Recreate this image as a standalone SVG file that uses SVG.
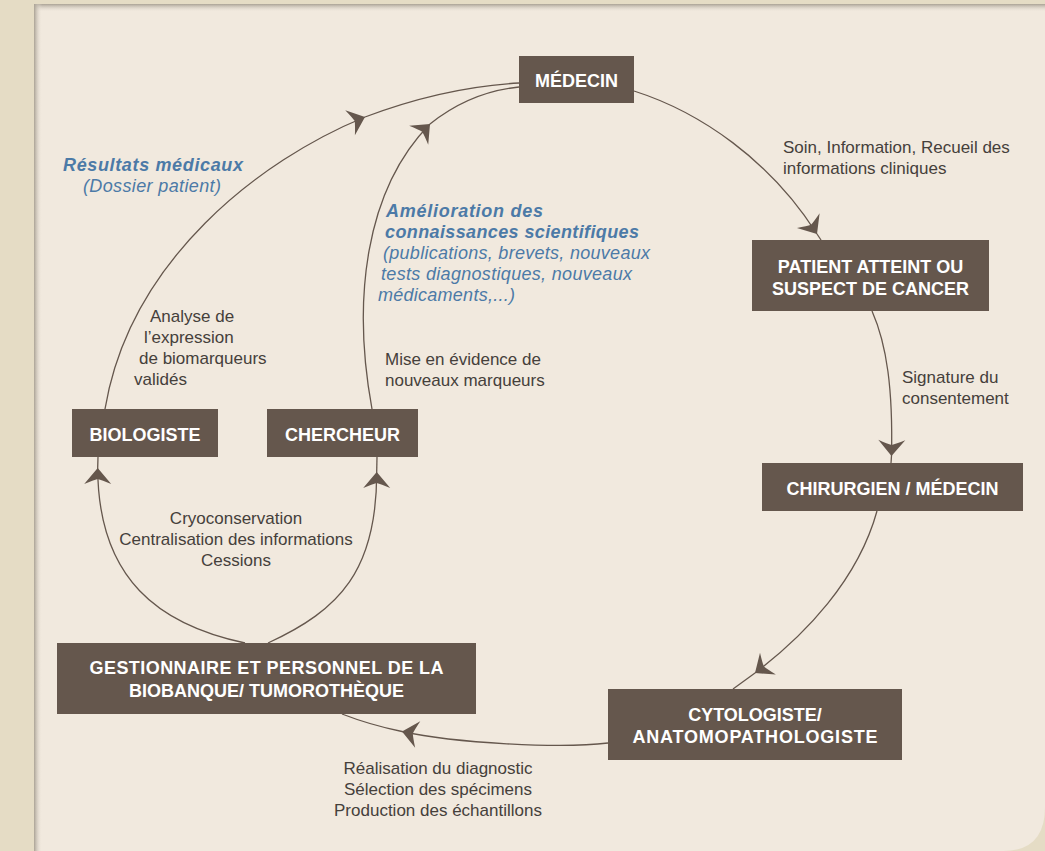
<svg xmlns="http://www.w3.org/2000/svg" width="1045" height="851" viewBox="0 0 1045 851">
<defs>
<linearGradient id="shTop" x1="0" y1="0" x2="0" y2="1">
<stop offset="0" stop-color="#aaa295"/>
<stop offset="1" stop-color="#F1E9DE" stop-opacity="0"/>
</linearGradient>
<linearGradient id="shLeft" x1="0" y1="0" x2="1" y2="0">
<stop offset="0" stop-color="#aaa295"/>
<stop offset="1" stop-color="#F1E9DE" stop-opacity="0"/>
</linearGradient>
<path id="ah" d="M0,0 L-16,-13.5 Q-12,-4 -11,0 Q-12,4 -16,13.5 Z"/>
<style>
.box{fill:#65574D}
.nt{font-family:"Liberation Sans",Arial,sans-serif;font-weight:bold;font-size:18px;fill:#FFFFFF;text-anchor:middle}
.lb{font-family:"Liberation Sans",Arial,sans-serif;font-size:17px;fill:#45403B}
.bl{font-family:"Liberation Sans",Arial,sans-serif;font-size:18px;fill:#4C7AA7;font-style:italic}
.blb{font-weight:bold}
.cn{fill:none;stroke:#65574D;stroke-width:1.3}
.ar{fill:#65574D}
</style>
</defs>
<rect x="0" y="0" width="1045" height="851" fill="#E5DCC5"/>
<path d="M34,4 H1045 V807 Q1045,851 1003,851 H34 Z" fill="#F1E9DE"/>
<rect x="34" y="4" width="1011" height="8" fill="url(#shTop)"/>
<rect x="34" y="4" width="8" height="847" fill="url(#shLeft)"/>

<g id="connectors">
<path class="cn" d="M634,91 C700,112 770,160 817,234"/>
<path class="cn" d="M817,234 L821,240"/>
<use href="#ah" class="ar" transform="translate(817,234) rotate(57)"/>

<path class="cn" d="M872,311 C887,345 893,390 891.5,456"/>
<path class="cn" d="M891.5,456 L891,463"/>
<use href="#ah" class="ar" transform="translate(891.5,456) rotate(91)"/>

<path class="cn" d="M877,511 C858,580 805,635 755,673"/>
<path class="cn" d="M755,673 L733,689"/>
<use href="#ah" class="ar" transform="translate(755,673) rotate(144)"/>

<path class="cn" d="M608,743 C560,749 455,743 402,731.5"/>
<path class="cn" d="M402,731.5 C380,727 360,721 342,714"/>
<use href="#ah" class="ar" transform="translate(402,731.5) rotate(191)"/>

<path class="cn" d="M245,643 C160,625 98,580 97.7,468"/>
<path class="cn" d="M97.7,468 L98,457"/>
<use href="#ah" class="ar" transform="translate(97.7,468) rotate(-90)"/>

<path class="cn" d="M268,643 C340,610 377,570 376.7,472"/>
<path class="cn" d="M376.7,472 L377,457"/>
<use href="#ah" class="ar" transform="translate(376.7,472) rotate(-90)"/>

<path class="cn" d="M105,409 C130,260 260,160 365,117"/>
<path class="cn" d="M365,117 C410,100 465,86 519,83"/>
<use href="#ah" class="ar" transform="translate(365,117) rotate(-21)"/>

<path class="cn" d="M372,409 C352,300 365,190 430,124"/>
<path class="cn" d="M430,124 C460,100 490,90 519,87"/>
<use href="#ah" class="ar" transform="translate(430,124) rotate(-45)"/>
</g>

<g id="medecin">
<rect class="box" x="519" y="56" width="115" height="47"/>
<text class="nt" x="576.5" y="87">MÉDECIN</text>
</g>
<g id="patient">
<rect class="box" x="752" y="240" width="237" height="71"/>
<text class="nt" x="870.5" y="273">PATIENT ATTEINT OU</text>
<text class="nt" x="870.5" y="295">SUSPECT DE CANCER</text>
</g>
<g id="chirurgien">
<rect class="box" x="762" y="463" width="261" height="48"/>
<text class="nt" x="892.5" y="495">CHIRURGIEN / MÉDECIN</text>
</g>
<g id="cytologiste">
<rect class="box" x="608" y="689" width="294" height="71"/>
<text class="nt" x="755" y="721">CYTOLOGISTE/</text>
<text class="nt" x="755" y="743" textLength="245" lengthAdjust="spacing">ANATOMOPATHOLOGISTE</text>
</g>
<g id="gestionnaire">
<rect class="box" x="57" y="643" width="419" height="71"/>
<text class="nt" x="266.5" y="674" textLength="354" lengthAdjust="spacing">GESTIONNAIRE ET PERSONNEL DE LA</text>
<text class="nt" x="266.5" y="697">BIOBANQUE/ TUMOROTHÈQUE</text>
</g>
<g id="biologiste">
<rect class="box" x="72" y="409" width="146" height="48"/>
<text class="nt" x="145" y="441">BIOLOGISTE</text>
</g>
<g id="chercheur">
<rect class="box" x="267" y="409" width="151" height="48"/>
<text class="nt" x="342.5" y="441">CHERCHEUR</text>
</g>

<g id="labels">
<text class="lb" x="783" y="153">Soin, Information, Recueil des</text>
<text class="lb" x="783" y="174">informations cliniques</text>

<text class="lb" x="902" y="383">Signature du</text>
<text class="lb" x="902" y="404">consentement</text>

<text class="lb" x="150" y="322">Analyse de</text>
<text class="lb" x="144" y="343">l’expression</text>
<text class="lb" x="139" y="364">de biomarqueurs</text>
<text class="lb" x="134" y="385">validés</text>

<text class="bl blb" x="63" y="171" textLength="180" lengthAdjust="spacing">Résultats médicaux</text>
<text class="bl" x="83" y="192" textLength="138" lengthAdjust="spacing">(Dossier patient)</text>

<text class="bl blb" x="386" y="217" textLength="157" lengthAdjust="spacing">Amélioration des</text>
<text class="bl blb" x="385" y="238" textLength="254" lengthAdjust="spacing">connaissances scientifiques</text>
<text class="bl" x="383" y="259" textLength="267" lengthAdjust="spacing">(publications, brevets, nouveaux</text>
<text class="bl" x="381" y="280" textLength="251" lengthAdjust="spacing">tests diagnostiques, nouveaux</text>
<text class="bl" x="378" y="301" textLength="137" lengthAdjust="spacing">médicaments,...)</text>

<text class="lb" x="385" y="365">Mise en évidence de</text>
<text class="lb" x="385" y="386">nouveaux marqueurs</text>

<text class="lb" x="236" y="524" text-anchor="middle">Cryoconservation</text>
<text class="lb" x="236" y="545" text-anchor="middle">Centralisation des informations</text>
<text class="lb" x="236" y="566" text-anchor="middle">Cessions</text>

<text class="lb" x="438" y="774" text-anchor="middle">Réalisation du diagnostic</text>
<text class="lb" x="438" y="795" text-anchor="middle">Sélection des spécimens</text>
<text class="lb" x="438" y="816" text-anchor="middle">Production des échantillons</text>
</g>
</svg>
